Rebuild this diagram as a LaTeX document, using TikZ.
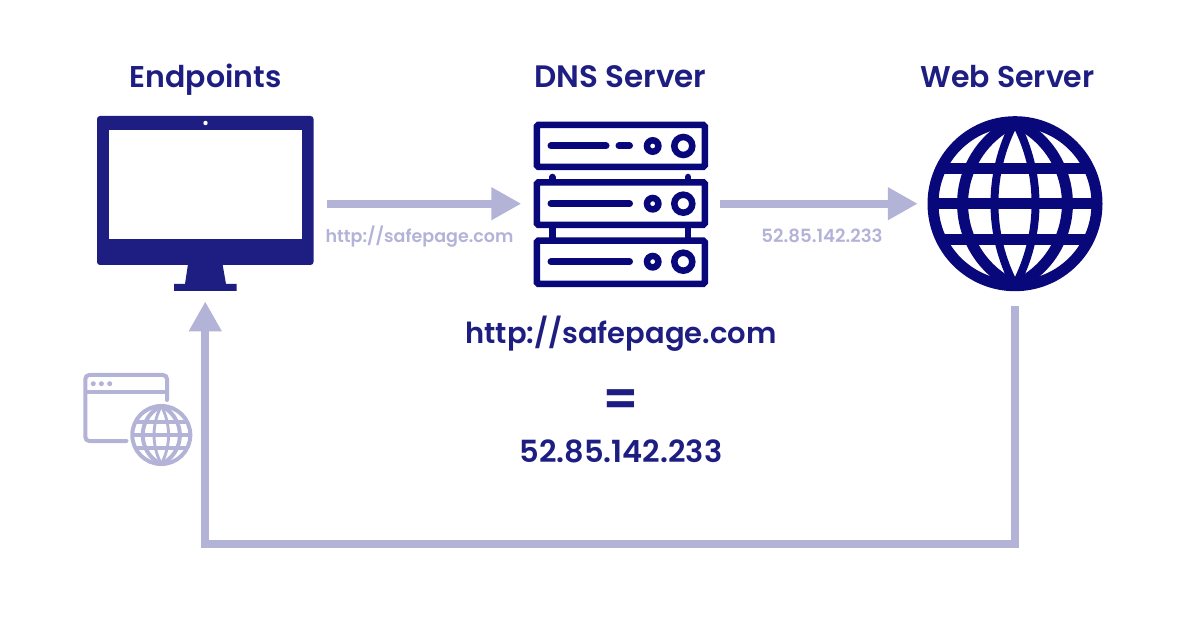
\documentclass[tikz,border=0pt]{standalone}
\usepackage{fontspec}
\setmainfont[BoldFont={Poppins SemiBold}]{Poppins}
\usetikzlibrary{arrows.meta}
\definecolor{titleblue}{HTML}{1E1E82}
\definecolor{iconblue}{HTML}{08087A}
\definecolor{flowblue}{HTML}{B3B3D8}
\tikzset{
  globe/.pic={
    \draw circle[radius=82pt];
    \begin{scope}
      \clip circle[radius=82pt];
      \draw (-90pt,-35.5pt) -- (90pt,-35.5pt);
      \draw (-90pt,0pt) -- (90pt,0pt);
      \draw (-90pt,35.5pt) -- (90pt,35.5pt);
      % meridians are circular arcs meeting at the poles
      \draw (0pt,-82pt) arc[start angle=-65.2,end angle=65.2,radius=90.3pt];
      \draw (0pt,-82pt) arc[start angle=245.2,end angle=114.8,radius=90.3pt];
      \draw[line width=.85*\pgflinewidth] (0pt,-82pt) arc[start angle=-28.1,end angle=28.1,radius=174.2pt];
      \draw[line width=.85*\pgflinewidth] (0pt,-82pt) arc[start angle=208.1,end angle=151.9,radius=174.2pt];
    \end{scope}
  },
  rackunit/.style={draw=iconblue,line width=6.5pt,rounded corners=1.5pt},
  rackbar/.style={draw=iconblue,line width=7pt,line cap=round},
  title/.style={font=\bfseries\fontsize{30}{32}\selectfont,text=titleblue,inner sep=0pt,anchor=base},
  mapping/.style={font=\bfseries\fontsize{29}{32}\selectfont,text=titleblue,inner sep=0pt,anchor=base},
  flowlabel/.style={font=\bfseries\fontsize{17.5}{20}\selectfont,text=flowblue,inner sep=0pt,anchor=base},
  iconbox/.style={inner sep=0pt},
  flow/.style={draw=flowblue,line width=8pt,-{Triangle[length=30pt,width=31pt]}}
}
\begin{document}
\begin{tikzpicture}[x=1pt,y=-1pt]
  \useasboundingbox (0,0) rectangle (1200,628);
  % icon areas, the connectors run between these
  \node[iconbox,minimum width=216.5pt,minimum height=175pt] (endpoints) at (205.25,203.7) {};
  \node[iconbox,minimum width=174.5pt,minimum height=165pt] (dns) at (620.75,203.7) {};
  \node[iconbox,minimum width=175pt,minimum height=175pt] (web) at (1015,203.7) {};
  \coordinate (turn) at (205.25,544);

  % monitor
  \fill[titleblue,rounded corners=3pt] (97,116) rectangle (313.5,265);
  \fill[white] (109,130.5) rectangle (301.5,239.5);
  \fill[white] (205.5,123) circle[radius=2.2pt];
  \fill[titleblue] (188,264) -- (222.5,264) -- (226,284) -- (236.5,284) -- (236.5,291)
    -- (174,291) -- (174,284) -- (185,284) -- cycle;

  % server rack
  \foreach \top/\bot/\mid in {125/166.8/146,182.3/224.8/203.7,240.7/283.8/261.7}{
    \draw[rackunit] (536.8,\top) rectangle (704.8,\bot);
    \draw[iconblue,line width=6.5pt] (652.7,\mid) circle[radius=5.7pt];
    \draw[iconblue,line width=6.5pt] (683.3,\mid) circle[radius=9pt];
  }
  \draw[rackbar] (551,146) -- (606,146);
  \draw[rackbar] (619,146) -- (629.5,146);
  \draw[rackbar] (551,203.7) -- (629.5,203.7);
  \draw[rackbar] (551,261.7) -- (629.5,261.7);
  \foreach \post in {552.3,688}{
    \draw[iconblue,line width=6.5pt,line cap=round] (\post,177) -- (\post,181);
    \draw[iconblue,line width=6.5pt] (\post,227) -- (\post,238);
  }

  % web server
  \pic[draw=iconblue,line width=11pt] at (web) {globe};

  % browser window with small globe
  \draw[flowblue,line width=4pt,line cap=round,rounded corners=4pt]
    (126.5,441) -- (85.3,441) -- (85.3,375) -- (167,375) -- (167,400);
  \draw[flowblue,line width=4pt] (85.3,391.7) -- (167,391.7);
  \foreach \dotx in {93.3,101.4,109.7}
    \fill[flowblue] (\dotx,383.7) circle[radius=2.5pt];
  \pic[draw=flowblue,line width=4pt,scale=.354] at (161.3,435) {globe};

  % connectors
  \draw[flow,shorten <=13pt,shorten >=12pt] (endpoints.east) -- (dns.west);
  \draw[flow,shorten <=12pt,shorten >=9.5pt] (dns.east) -- (web.west);
  \draw[flow,shorten <=15pt,shorten >=10pt] (web.south) |- (turn) -- (endpoints.south);

  % texts
  \node[title] (endpoints title) at (205.5,88) {Endpoints};
  \node[title,font=\bfseries\fontsize{31}{32}\selectfont] (dns title) at (620.5,88) {DNS Server};
  \node[title] (web title) at (1007.5,88) {Web Server};
  \node[flowlabel] (url label) at (419.5,243) {http://safepage.com};
  \node[flowlabel,font=\bfseries\fontsize{18.2}{20}\selectfont] (ip label) at (822,243) {52.85.142.233};
  \node[mapping] (url) at (621,344) {http://safepage.com};
  \node[mapping,font=\bfseries\fontsize{50}{52}\selectfont] (equals) at (620.5,416) {=};
  \node[mapping,font=\bfseries\fontsize{30.5}{32}\selectfont] (ip) at (621,462.5) {52.85.142.233};
\end{tikzpicture}
\end{document}
